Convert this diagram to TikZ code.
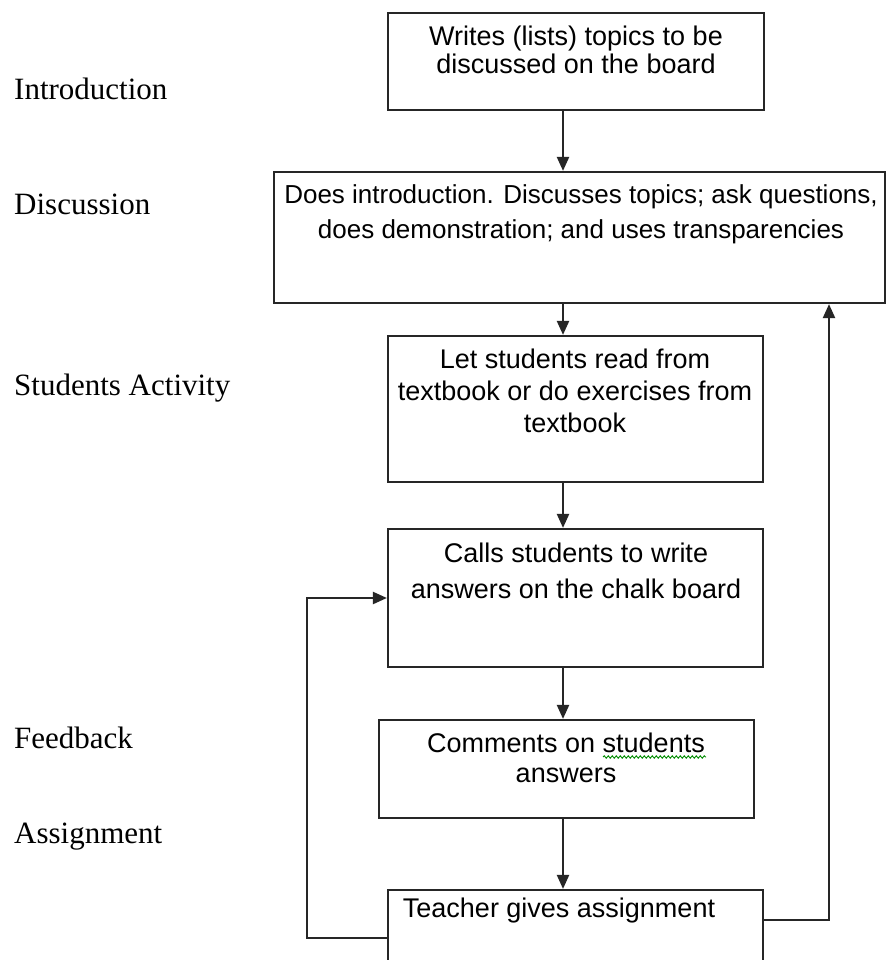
\documentclass[tikz,border=0pt]{standalone}
\usepackage{fontspec}
\setmainfont{Liberation Sans}
\newfontfamily\labelfont{Liberation Serif}
\usetikzlibrary{arrows.meta,decorations.pathmorphing}

% top of the first text line, so that text nodes can hang from their north anchor
\newcommand\firstline{\rule{0pt}{20pt}}

\begin{document}
\begin{tikzpicture}[x=1pt,y=-1pt,
  stage/.style={draw=black!85, line width=2.2pt, inner sep=0pt, minimum width=#1},
  boxtext/.style={font=\fontsize{27}{#1}\selectfont, align=center, inner sep=0pt, anchor=north},
  widetext/.style={font=\fontsize{26}{#1}\selectfont, align=center, inner sep=0pt, anchor=north},
  phase/.style={font=\labelfont\fontsize{31}{36}\selectfont, inner sep=0pt, anchor=base west},
  arr/.style={draw=black!85, line width=2.2pt, -{Triangle[length=14pt,width=12pt]}}]

\clip (0,0) rectangle (888,960);
\fill[white] (0,0) rectangle (888,960);

% phase labels on the left
\node[phase] (lintro) at (14,100) {Introduction};
\node[phase] (ldisc)  at (14,214) {Discussion};
\node[phase] (lact)   at (14,395) {Students Activity};
\node[phase] (lfeed)  at (14,748) {Feedback};
\node[phase] (lassign) at (14,843) {Assignment};

% stage boxes
\node[stage=376pt, minimum height=97pt]  (b1) at (576,61.5) {};
\node[stage=611pt, minimum height=131pt] (b2) at (579.5,237.5) {};
\node[stage=375pt, minimum height=146pt] (b3) at (575.5,409) {};
\node[stage=375pt, minimum height=138pt] (b4) at (575.5,598) {};
\node[stage=375pt, minimum height=98pt]  (b5) at (566.5,769) {};
\node[stage=375pt, minimum height=96pt]  (b6) at (575.5,938) {};

% box texts
\node[boxtext=28] (t1) at (576,25) {\firstline Writes (lists) topics to be\\discussed on the board};
\node[widetext=35] (t2) at (581,183) {\firstline Does introduction. Discusses topics; ask questions,\\does demonstration; and uses transparencies};
\node[boxtext=32] (t3) at (575,348) {\firstline Let students read from\\textbook or do exercises from\\textbook};
\node[boxtext=36] (t4) at (576,542) {\firstline Calls students to write\\answers on the chalk board};
\node[boxtext=30] (t5) at (566,732) {\firstline Comments on students\\answers};
\node[boxtext=30] (t6) at (559,897) {\firstline Teacher gives assignment};

% spelling squiggle under "students"
\draw[green!55!black, line width=0.9pt,
      decorate, decoration={snake, amplitude=1.2pt, segment length=4pt}]
  (603,757) -- (706,757);

% main flow
\coordinate (axis) at (563,0);
\draw[arr] (b1.south -| axis) -- (b2.north -| axis);
\draw[arr] (b2.south -| axis) -- (b3.north -| axis);
\draw[arr] (b3.south -| axis) -- (b4.north -| axis);
\draw[arr] (b4.south -| axis) -- (b5.north -| axis);
\draw[arr] (b5.south -| axis) -- (b6.north -| axis);

% loop back to the chalk board step
\coordinate (lx) at (307,0);
\draw[arr] (b6.west) -- (b6.west -| lx) -- (b4.west -| lx) -- (b4.west);

% loop back to the discussion step
\coordinate (rx) at (829,0);
\coordinate (r1) at ([yshift=-31pt]b6.north east);
\draw[arr] (r1) -- (r1 -| rx) -- (b2.south -| rx);

\end{tikzpicture}
\end{document}
